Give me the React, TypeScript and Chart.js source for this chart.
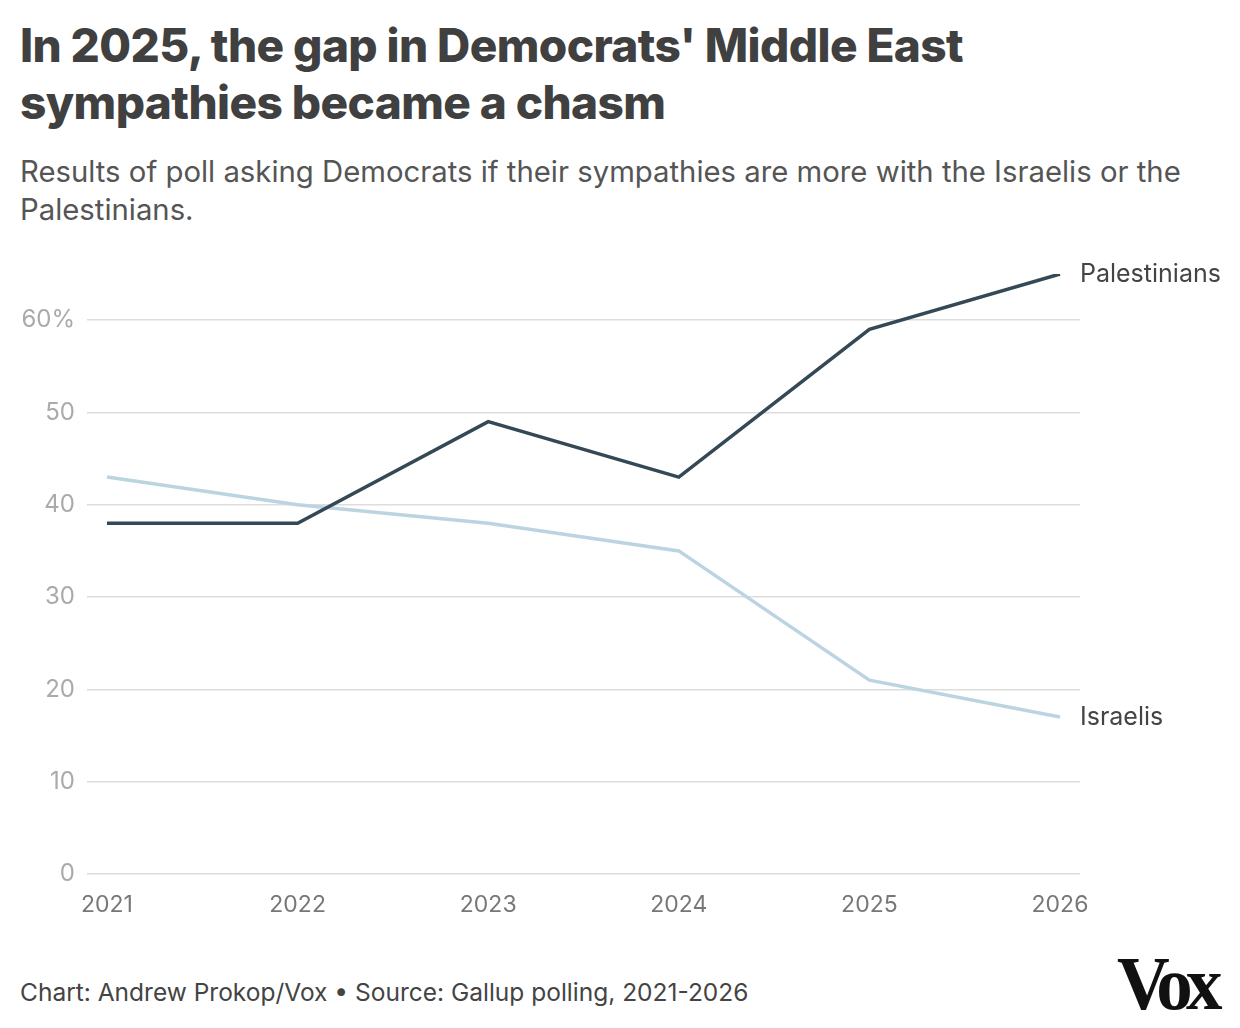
import { useEffect, useRef } from "react";
import { Chart, registerables } from "chart.js";

Chart.register(...registerables);

const years = [2021, 2022, 2023, 2024, 2025, 2026];
const palestinians = [38, 38, 49, 43, 59, 65];
const israelis = [43, 40, 38, 35, 21, 17];
const yTicks = [0, 10, 20, 30, 40, 50, 60];

const FONT = "Inter, 'Noto Sans', sans-serif";

// draws the series name at the end of each line
const endLabels = {
	id: "endLabels",
	afterDatasetsDraw(chart: Chart) {
		const ctx = chart.ctx;
		ctx.save();
		ctx.font = `25px ${FONT}`;
		ctx.fillStyle = "#444";
		ctx.textBaseline = "middle";
		ctx.textAlign = "left";
		chart.data.datasets.forEach((ds, i) => {
			const meta = chart.getDatasetMeta(i);
			const last = meta.data[meta.data.length - 1];
			ctx.fillText(String(ds.label), last.x + 20, last.y);
		});
		ctx.restore();
	},
};

export default function App() {
	const chartRef = useRef<HTMLCanvasElement | null>(null);

	useEffect(() => {
		document.body.style.margin = "0";
		if (!chartRef.current) return;
		const chart = new Chart(chartRef.current, {
			type: "line",
			data: {
				datasets: [
					{
						label: "Palestinians",
						data: years.map((y, i) => ({ x: y, y: palestinians[i] })),
						borderColor: "#344955",
						borderWidth: 3.5,
						pointRadius: 0,
						tension: 0,
					},
					{
						label: "Israelis",
						data: years.map((y, i) => ({ x: y, y: israelis[i] })),
						borderColor: "#bcd4e2",
						borderWidth: 3.5,
						pointRadius: 0,
						tension: 0,
					},
				],
			},
			options: {
				animation: false,
				responsive: false,
				layout: { padding: { top: 34, right: 160, left: 0, bottom: 0 } },
				plugins: {
					legend: { display: false },
					tooltip: { enabled: false },
				},
				scales: {
					x: {
						type: "linear",
						min: 2020.895,
						max: 2026.105,
						afterBuildTicks: (axis) => {
							axis.ticks = years.map((v) => ({ value: v }));
						},
						afterFit: (axis) => {
							axis.height = 66;
						},
						grid: { display: false },
						border: { display: false },
						ticks: {
							padding: 9,
							color: "#777",
							font: { size: 23, family: FONT },
							callback: (v) => String(v),
							maxRotation: 0,
						},
					},
					y: {
						min: 0,
						max: 65,
						afterBuildTicks: (axis) => {
							axis.ticks = yTicks.map((v) => ({ value: v }));
						},
						afterFit: (axis) => {
							axis.width = 87;
						},
						grid: { color: "#dddddd", lineWidth: 1.5, drawTicks: false },
						border: { display: false },
						ticks: {
							padding: 12,
							color: "#aaa",
							font: { size: 24, family: FONT },
							callback: (v) => (v === 60 ? "60%" : String(v)),
						},
					},
				},
			},
			plugins: [endLabels],
		});
		return () => chart.destroy();
	}, []);

	return (
		<div style={{ width: 1240, height: 1028, position: "relative", fontFamily: FONT, background: "#fff" }}>
			<div
				style={{
					position: "absolute",
					left: 20,
					top: 17,
					width: 1100,
					fontSize: 46,
					fontWeight: 800,
					lineHeight: "57px",
					color: "#404040",
					letterSpacing: -0.6,
				}}
			>
				In 2025, the gap in Democrats' Middle East
				<br />
				sympathies became a chasm
			</div>
			<div
				style={{
					position: "absolute",
					left: 20,
					top: 153,
					width: 1200,
					fontSize: 29.3,
					lineHeight: "38px",
					color: "#555",
				}}
			>
				Results of poll asking Democrats if their sympathies are more with the Israelis or the
				<br />
				Palestinians.
			</div>
			<canvas ref={chartRef} width={1240} height={700} style={{ position: "absolute", left: 0, top: 240 }} />
			<div style={{ position: "absolute", left: 20, top: 977, fontSize: 24.5, color: "#444" }}>
				Chart: Andrew Prokop/Vox • Source: Gallup polling, 2021-2026
			</div>
			<div
				style={{
					position: "absolute",
					left: 1117,
					top: 940,
					fontSize: 76,
					fontWeight: 700,
					fontFamily: "'Liberation Serif', 'DejaVu Serif', serif",
					color: "#111",
					letterSpacing: -7,
					transform: "scaleX(0.96)",
					transformOrigin: "left",
				}}
			>
				Vox
			</div>
		</div>
	);
}
